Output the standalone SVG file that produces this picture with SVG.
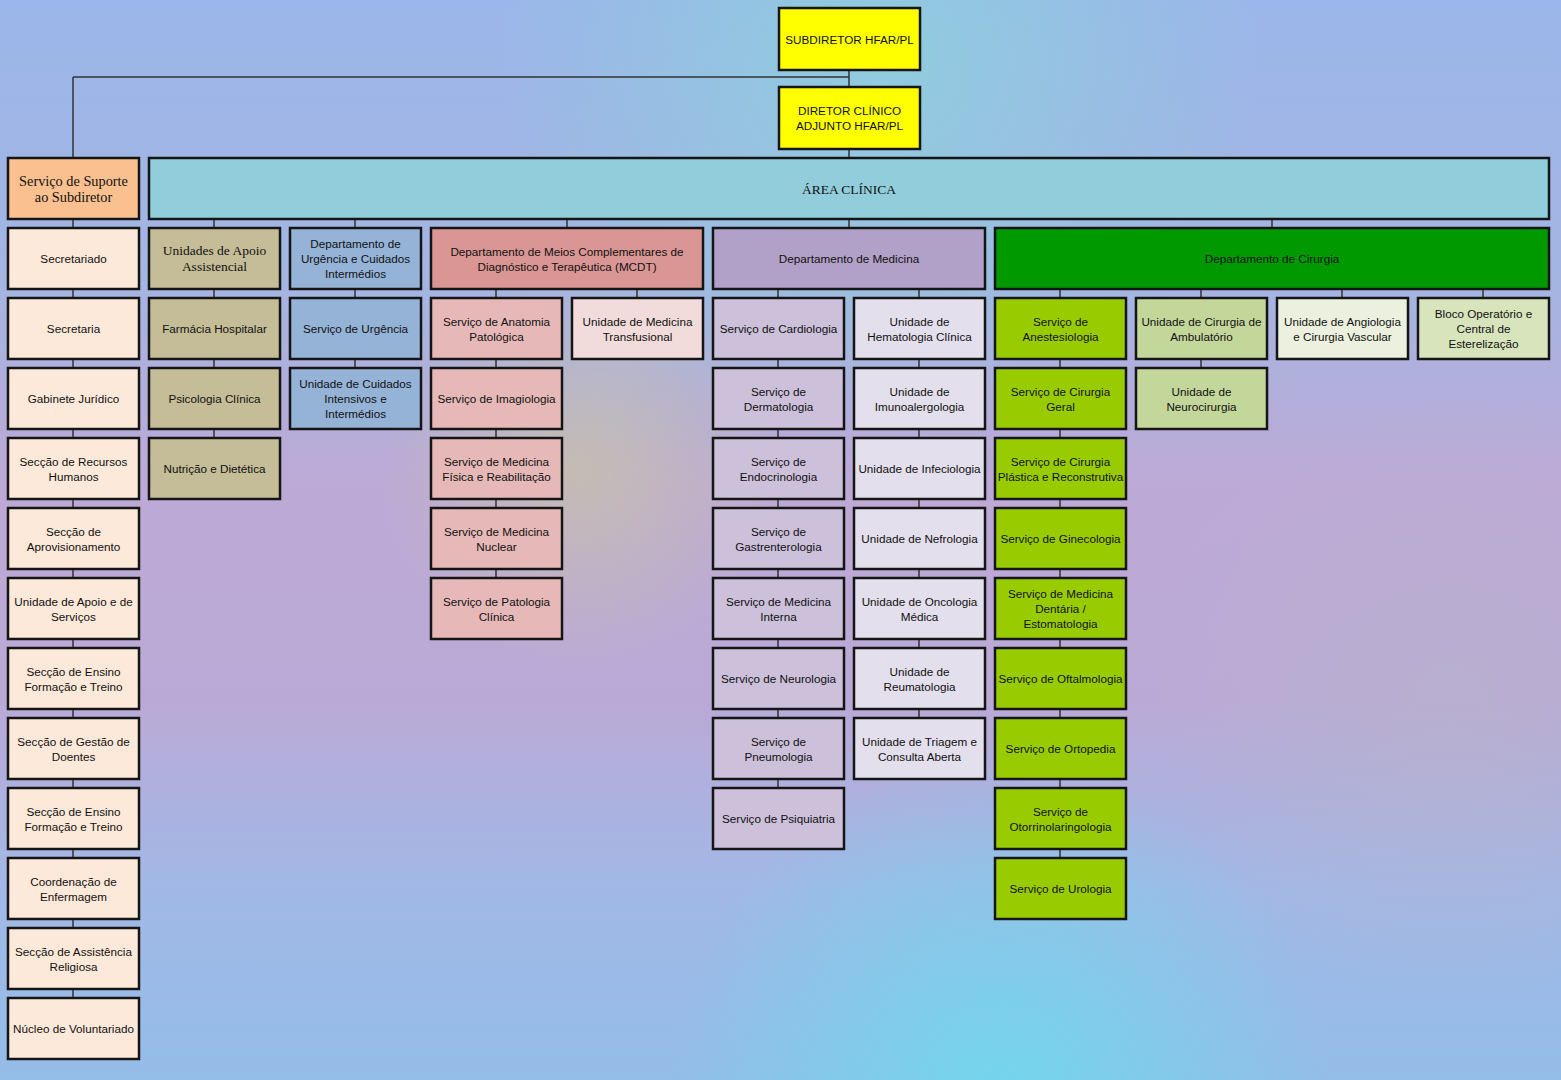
<svg xmlns="http://www.w3.org/2000/svg" width="1561" height="1080" viewBox="0 0 1561 1080">
<defs>
<linearGradient id="bg" x1="0" y1="0" x2="0" y2="1">
<stop offset="0" stop-color="#9bb6ea"/>
<stop offset="0.25" stop-color="#a3b5e2"/>
<stop offset="0.45" stop-color="#bda9d6"/>
<stop offset="0.65" stop-color="#baa9d6"/>
<stop offset="0.82" stop-color="#a2b8e6"/>
<stop offset="1" stop-color="#94bde8"/>
</linearGradient>
<radialGradient id="g1" cx="880" cy="60" r="380" gradientUnits="userSpaceOnUse">
<stop offset="0" stop-color="#8dd0dc" stop-opacity="0.85"/>
<stop offset="1" stop-color="#8dd0dc" stop-opacity="0"/>
</radialGradient>
<radialGradient id="g2" cx="1000" cy="1090" r="330" gradientUnits="userSpaceOnUse">
<stop offset="0" stop-color="#6fd8ec" stop-opacity="0.9"/>
<stop offset="1" stop-color="#6fd8ec" stop-opacity="0"/>
</radialGradient>
<radialGradient id="g3" cx="580" cy="470" r="200" gradientUnits="userSpaceOnUse">
<stop offset="0" stop-color="#c8c4a4" stop-opacity="0.7"/>
<stop offset="1" stop-color="#c8c4a4" stop-opacity="0"/>
</radialGradient>
<radialGradient id="g4" cx="1450" cy="700" r="300" gradientUnits="userSpaceOnUse">
<stop offset="0" stop-color="#b8b4cc" stop-opacity="0.6"/>
<stop offset="1" stop-color="#b8b4cc" stop-opacity="0"/>
</radialGradient>
<style>
.b{stroke:#151515;stroke-width:2.5}
.c{stroke:#333;stroke-width:1.5;fill:none}
text{font-family:"Liberation Sans",Arial,sans-serif;font-size:11.7px;fill:#111;text-anchor:middle;dominant-baseline:central}
.s{font-family:"Liberation Serif","Times New Roman",serif;font-size:13.5px}
.s2{font-family:"Liberation Serif","Times New Roman",serif;font-size:14.3px}
.y{fill:#ffff00}.sup{fill:#fac08f}.sc{fill:#fde9d9}.ac{fill:#92cddc}
.ua{fill:#c4bd97}.ur{fill:#95b3d7}.mc{fill:#da9694}.mcc{fill:#e6b9b8}.mct{fill:#f2dcdb}
.me{fill:#b1a0c7}.me1{fill:#ccc0da}.me2{fill:#e4dfec}
.ci{fill:#009a00}.ci1{fill:#99cc00}.ci2{fill:#c4d79b}.ci3{fill:#ebf1de}.ci4{fill:#d8e4bc}
</style>
</defs>
<rect width="1561" height="1080" fill="url(#bg)"/>
<rect width="1561" height="1080" fill="url(#g1)"/>
<rect width="1561" height="1080" fill="url(#g3)"/>
<rect width="1561" height="1080" fill="url(#g4)"/>
<rect width="1561" height="1080" fill="url(#g2)"/>

<g id="connectors">
<path class="c" d="M849 70V87M73 77H849M73 77V158M849 149V158"/>
<path class="c" d="M73 219V998M214 219V438M355 219V368M567 219V228M849 219V228M1272 219V228"/>
<path class="c" d="M496 289V578M637 289V298"/>
<path class="c" d="M778 289V788M919 289V718"/>
<path class="c" d="M1060 289V858M1201 289V368M1342 289V298M1483 289V298"/>
</g>

<g id="subdiretor"><rect class="b y" x="779" y="8" width="141" height="62"/><text x="849.5" y="39">SUBDIRETOR HFAR/PL</text></g>
<g id="diretor"><rect class="b y" x="779" y="87" width="141" height="62"/><text x="849.5" y="110.5">DIRETOR CLÍNICO</text><text x="849.5" y="125.5">ADJUNTO HFAR/PL</text></g>
<g id="suporte"><rect class="b sup" x="8" y="158" width="131" height="61"/><text class="s2" x="73.5" y="181">Serviço de Suporte</text><text class="s2" x="73.5" y="196.5">ao Subdiretor</text></g>
<g id="area-clinica"><rect class="b ac" x="149" y="158" width="1400" height="61"/><text class="s" x="849" y="189">ÁREA CLÍNICA</text></g>

<!-- column 0 -->
<g id="secretariado"><rect class="b sc" x="8" y="228" width="131" height="61"/><text x="73.5" y="258.5">Secretariado</text></g>
<g id="secretaria"><rect class="b sc" x="8" y="298" width="131" height="61"/><text x="73.5" y="328.5">Secretaria</text></g>
<g id="gabinete-juridico"><rect class="b sc" x="8" y="368" width="131" height="61"/><text x="73.5" y="398.5">Gabinete Jurídico</text></g>
<g id="rh"><rect class="b sc" x="8" y="438" width="131" height="61"/><text x="73.5" y="461">Secção de Recursos</text><text x="73.5" y="476">Humanos</text></g>
<g id="aprov"><rect class="b sc" x="8" y="508" width="131" height="61"/><text x="73.5" y="531">Secção de</text><text x="73.5" y="546">Aprovisionamento</text></g>
<g id="apoio-servicos"><rect class="b sc" x="8" y="578" width="131" height="61"/><text x="73.5" y="601">Unidade de Apoio e de</text><text x="73.5" y="616">Serviços</text></g>
<g id="ensino1"><rect class="b sc" x="8" y="648" width="131" height="61"/><text x="73.5" y="671">Secção de Ensino</text><text x="73.5" y="686">Formação e Treino</text></g>
<g id="gestao-doentes"><rect class="b sc" x="8" y="718" width="131" height="61"/><text x="73.5" y="741">Secção de Gestão de</text><text x="73.5" y="756">Doentes</text></g>
<g id="ensino2"><rect class="b sc" x="8" y="788" width="131" height="61"/><text x="73.5" y="811">Secção de Ensino</text><text x="73.5" y="826">Formação e Treino</text></g>
<g id="enfermagem"><rect class="b sc" x="8" y="858" width="131" height="61"/><text x="73.5" y="881">Coordenação de</text><text x="73.5" y="896">Enfermagem</text></g>
<g id="religiosa"><rect class="b sc" x="8" y="928" width="131" height="61"/><text x="73.5" y="951">Secção de Assistência</text><text x="73.5" y="966">Religiosa</text></g>
<g id="voluntariado"><rect class="b sc" x="8" y="998" width="131" height="61"/><text x="73.5" y="1028.5">Núcleo de Voluntariado</text></g>

<!-- column 1 -->
<g id="apoio-assistencial"><rect class="b ua" x="149" y="228" width="131" height="61"/><text class="s" x="214.5" y="250.5">Unidades de Apoio</text><text class="s" x="214.5" y="266">Assistencial</text></g>
<g id="farmacia"><rect class="b ua" x="149" y="298" width="131" height="61"/><text x="214.5" y="328.5">Farmácia Hospitalar</text></g>
<g id="psicologia"><rect class="b ua" x="149" y="368" width="131" height="61"/><text x="214.5" y="398.5">Psicologia Clínica</text></g>
<g id="nutricao"><rect class="b ua" x="149" y="438" width="131" height="61"/><text x="214.5" y="468.5">Nutrição e Dietética</text></g>

<!-- column 2 -->
<g id="dep-urgencia"><rect class="b ur" x="290" y="228" width="131" height="61"/><text x="355.5" y="243.5">Departamento de</text><text x="355.5" y="258.5">Urgência e Cuidados</text><text x="355.5" y="273.5">Intermédios</text></g>
<g id="servico-urgencia"><rect class="b ur" x="290" y="298" width="131" height="61"/><text x="355.5" y="328.5">Serviço de Urgência</text></g>
<g id="uci"><rect class="b ur" x="290" y="368" width="131" height="61"/><text x="355.5" y="383.5">Unidade de Cuidados</text><text x="355.5" y="398.5">Intensivos e</text><text x="355.5" y="413.5">Intermédios</text></g>

<!-- MCDT -->
<g id="mcdt"><rect class="b mc" x="431" y="228" width="272" height="61"/><text x="567" y="251">Departamento de Meios Complementares de</text><text x="567" y="266">Diagnóstico e Terapêutica (MCDT)</text></g>
<g id="anatomia"><rect class="b mcc" x="431" y="298" width="131" height="61"/><text x="496.5" y="321">Serviço de Anatomia</text><text x="496.5" y="336">Patológica</text></g>
<g id="imagiologia"><rect class="b mcc" x="431" y="368" width="131" height="61"/><text x="496.5" y="398.5">Serviço de Imagiologia</text></g>
<g id="mfr"><rect class="b mcc" x="431" y="438" width="131" height="61"/><text x="496.5" y="461">Serviço de Medicina</text><text x="496.5" y="476">Física e Reabilitação</text></g>
<g id="nuclear"><rect class="b mcc" x="431" y="508" width="131" height="61"/><text x="496.5" y="531">Serviço de Medicina</text><text x="496.5" y="546">Nuclear</text></g>
<g id="patologia-clinica"><rect class="b mcc" x="431" y="578" width="131" height="61"/><text x="496.5" y="601">Serviço de Patologia</text><text x="496.5" y="616">Clínica</text></g>
<g id="transfusional"><rect class="b mct" x="572" y="298" width="131" height="61"/><text x="637.5" y="321">Unidade de Medicina</text><text x="637.5" y="336">Transfusional</text></g>

<!-- Medicina -->
<g id="medicina"><rect class="b me" x="713" y="228" width="272" height="61"/><text x="849" y="258.5">Departamento de Medicina</text></g>
<g id="cardiologia"><rect class="b me1" x="713" y="298" width="131" height="61"/><text x="778.5" y="328.5">Serviço de Cardiologia</text></g>
<g id="dermatologia"><rect class="b me1" x="713" y="368" width="131" height="61"/><text x="778.5" y="391">Serviço de</text><text x="778.5" y="406">Dermatologia</text></g>
<g id="endocrinologia"><rect class="b me1" x="713" y="438" width="131" height="61"/><text x="778.5" y="461">Serviço de</text><text x="778.5" y="476">Endocrinologia</text></g>
<g id="gastrenterologia"><rect class="b me1" x="713" y="508" width="131" height="61"/><text x="778.5" y="531">Serviço de</text><text x="778.5" y="546">Gastrenterologia</text></g>
<g id="medicina-interna"><rect class="b me1" x="713" y="578" width="131" height="61"/><text x="778.5" y="601">Serviço de Medicina</text><text x="778.5" y="616">Interna</text></g>
<g id="neurologia"><rect class="b me1" x="713" y="648" width="131" height="61"/><text x="778.5" y="678.5">Serviço de Neurologia</text></g>
<g id="pneumologia"><rect class="b me1" x="713" y="718" width="131" height="61"/><text x="778.5" y="741">Serviço de</text><text x="778.5" y="756">Pneumologia</text></g>
<g id="psiquiatria"><rect class="b me1" x="713" y="788" width="131" height="61"/><text x="778.5" y="818.5">Serviço de Psiquiatria</text></g>
<g id="hematologia"><rect class="b me2" x="854" y="298" width="131" height="61"/><text x="919.5" y="321">Unidade de</text><text x="919.5" y="336">Hematologia Clínica</text></g>
<g id="imunoalergologia"><rect class="b me2" x="854" y="368" width="131" height="61"/><text x="919.5" y="391">Unidade de</text><text x="919.5" y="406">Imunoalergologia</text></g>
<g id="infeciologia"><rect class="b me2" x="854" y="438" width="131" height="61"/><text x="919.5" y="468.5">Unidade de Infeciologia</text></g>
<g id="nefrologia"><rect class="b me2" x="854" y="508" width="131" height="61"/><text x="919.5" y="538.5">Unidade de Nefrologia</text></g>
<g id="oncologia"><rect class="b me2" x="854" y="578" width="131" height="61"/><text x="919.5" y="601">Unidade de Oncologia</text><text x="919.5" y="616">Médica</text></g>
<g id="reumatologia"><rect class="b me2" x="854" y="648" width="131" height="61"/><text x="919.5" y="671">Unidade de</text><text x="919.5" y="686">Reumatologia</text></g>
<g id="triagem"><rect class="b me2" x="854" y="718" width="131" height="61"/><text x="919.5" y="741">Unidade de Triagem e</text><text x="919.5" y="756">Consulta Aberta</text></g>

<!-- Cirurgia -->
<g id="cirurgia"><rect class="b ci" x="995" y="228" width="554" height="61"/><text x="1272" y="258.5">Departamento de Cirurgia</text></g>
<g id="anestesiologia"><rect class="b ci1" x="995" y="298" width="131" height="61"/><text x="1060.5" y="321">Serviço de</text><text x="1060.5" y="336">Anestesiologia</text></g>
<g id="cirurgia-geral"><rect class="b ci1" x="995" y="368" width="131" height="61"/><text x="1060.5" y="391">Serviço de Cirurgia</text><text x="1060.5" y="406">Geral</text></g>
<g id="plastica"><rect class="b ci1" x="995" y="438" width="131" height="61"/><text x="1060.5" y="461">Serviço de Cirurgia</text><text x="1060.5" y="476">Plástica e Reconstrutiva</text></g>
<g id="ginecologia"><rect class="b ci1" x="995" y="508" width="131" height="61"/><text x="1060.5" y="538.5">Serviço de Ginecologia</text></g>
<g id="dentaria"><rect class="b ci1" x="995" y="578" width="131" height="61"/><text x="1060.5" y="593.5">Serviço de Medicina</text><text x="1060.5" y="608.5">Dentária /</text><text x="1060.5" y="623.5">Estomatologia</text></g>
<g id="oftalmologia"><rect class="b ci1" x="995" y="648" width="131" height="61"/><text x="1060.5" y="678.5">Serviço de Oftalmologia</text></g>
<g id="ortopedia"><rect class="b ci1" x="995" y="718" width="131" height="61"/><text x="1060.5" y="748.5">Serviço de Ortopedia</text></g>
<g id="otorrino"><rect class="b ci1" x="995" y="788" width="131" height="61"/><text x="1060.5" y="811">Serviço de</text><text x="1060.5" y="826">Otorrinolaringologia</text></g>
<g id="urologia"><rect class="b ci1" x="995" y="858" width="131" height="61"/><text x="1060.5" y="888.5">Serviço de Urologia</text></g>
<g id="ambulatorio"><rect class="b ci2" x="1136" y="298" width="131" height="61"/><text x="1201.5" y="321">Unidade de Cirurgia de</text><text x="1201.5" y="336">Ambulatório</text></g>
<g id="neurocirurgia"><rect class="b ci2" x="1136" y="368" width="131" height="61"/><text x="1201.5" y="391">Unidade de</text><text x="1201.5" y="406">Neurocirurgia</text></g>
<g id="angiologia"><rect class="b ci3" x="1277" y="298" width="131" height="61"/><text x="1342.5" y="321">Unidade de Angiologia</text><text x="1342.5" y="336">e Cirurgia Vascular</text></g>
<g id="bloco"><rect class="b ci4" x="1418" y="298" width="131" height="61"/><text x="1483.5" y="313.5">Bloco Operatório e</text><text x="1483.5" y="328.5">Central de</text><text x="1483.5" y="343.5">Esterelização</text></g>
</svg>
